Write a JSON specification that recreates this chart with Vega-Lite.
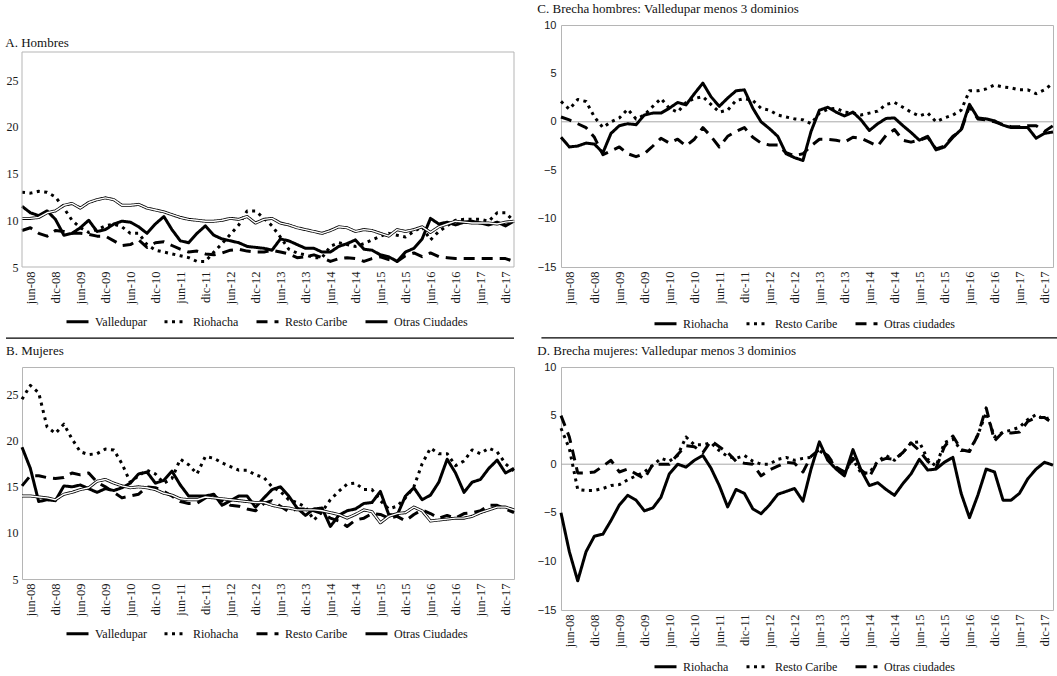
{
"$schema": "https://vega.github.io/schema/vega-lite/v6.json",
"background": "white",
"padding": {"left": 5, "top": 2, "right": 4, "bottom": 2},
"config": {
  "font": "Liberation Serif",
  "view": {"stroke": "#b5b5b5", "strokeWidth": 1},
  "axis": {"grid": false, "domain": false, "ticks": false, "labelFont": "Liberation Serif", "labelFontSize": 12, "labelColor": "#1a1a1a", "labelOverlap": false},
  "title": {"anchor": "start", "frame": "bounds", "font": "Liberation Serif", "fontSize": 13, "fontWeight": "normal", "color": "#111"},
  "legend": {"symbolType": "stroke", "symbolSize": 484, "symbolStrokeColor": "black", "symbolStrokeWidth": 2.6, "labelFont": "Liberation Serif", "labelFontSize": 12, "labelFontWeight": "normal", "labelColor": "#111", "labelOffset": 5, "columnPadding": 16, "padding": 0},
  "line": {"strokeCap": "butt", "strokeJoin": "round"}
},
"datasets": {
"A": [
{"d":"2008-04-01","Valledupar":11.5,"Riohacha":13.0,"Resto Caribe":8.9,"Otras Ciudades":10.2},
{"d":"2008-06-01","Valledupar":10.8,"Riohacha":12.9,"Resto Caribe":9.2,"Otras Ciudades":10.2},
{"d":"2008-08-01","Valledupar":10.5,"Riohacha":13.1,"Resto Caribe":8.6,"Otras Ciudades":10.3},
{"d":"2008-10-01","Valledupar":11.0,"Riohacha":13.0,"Resto Caribe":8.3,"Otras Ciudades":10.8},
{"d":"2008-12-01","Valledupar":10.1,"Riohacha":12.5,"Resto Caribe":8.9,"Otras Ciudades":11.0},
{"d":"2009-02-01","Valledupar":8.4,"Riohacha":11.3,"Resto Caribe":8.8,"Otras Ciudades":11.6},
{"d":"2009-04-01","Valledupar":8.6,"Riohacha":10.0,"Resto Caribe":8.6,"Otras Ciudades":11.8},
{"d":"2009-06-01","Valledupar":9.2,"Riohacha":9.2,"Resto Caribe":8.6,"Otras Ciudades":11.3},
{"d":"2009-08-01","Valledupar":10.0,"Riohacha":8.7,"Resto Caribe":8.5,"Otras Ciudades":11.9},
{"d":"2009-10-01","Valledupar":8.8,"Riohacha":9.0,"Resto Caribe":8.3,"Otras Ciudades":12.2},
{"d":"2009-12-01","Valledupar":9.0,"Riohacha":9.4,"Resto Caribe":8.3,"Otras Ciudades":12.4},
{"d":"2010-02-01","Valledupar":9.6,"Riohacha":9.6,"Resto Caribe":7.8,"Otras Ciudades":12.2},
{"d":"2010-04-01","Valledupar":9.9,"Riohacha":9.3,"Resto Caribe":7.3,"Otras Ciudades":11.6},
{"d":"2010-06-01","Valledupar":9.8,"Riohacha":8.6,"Resto Caribe":7.4,"Otras Ciudades":11.6},
{"d":"2010-08-01","Valledupar":9.3,"Riohacha":8.6,"Resto Caribe":7.9,"Otras Ciudades":11.7},
{"d":"2010-10-01","Valledupar":8.6,"Riohacha":7.4,"Resto Caribe":7.1,"Otras Ciudades":11.3},
{"d":"2010-12-01","Valledupar":9.6,"Riohacha":6.8,"Resto Caribe":7.6,"Otras Ciudades":11.1},
{"d":"2011-02-01","Valledupar":10.4,"Riohacha":6.6,"Resto Caribe":7.7,"Otras Ciudades":10.9},
{"d":"2011-04-01","Valledupar":9.0,"Riohacha":6.4,"Resto Caribe":7.3,"Otras Ciudades":10.6},
{"d":"2011-06-01","Valledupar":7.8,"Riohacha":6.2,"Resto Caribe":6.9,"Otras Ciudades":10.3},
{"d":"2011-08-01","Valledupar":7.6,"Riohacha":6.0,"Resto Caribe":6.6,"Otras Ciudades":10.1},
{"d":"2011-10-01","Valledupar":8.6,"Riohacha":5.6,"Resto Caribe":6.7,"Otras Ciudades":10.0},
{"d":"2011-12-01","Valledupar":9.4,"Riohacha":5.6,"Resto Caribe":6.4,"Otras Ciudades":9.9},
{"d":"2012-02-01","Valledupar":8.4,"Riohacha":6.6,"Resto Caribe":6.3,"Otras Ciudades":9.9},
{"d":"2012-04-01","Valledupar":8.0,"Riohacha":7.5,"Resto Caribe":6.5,"Otras Ciudades":10.0},
{"d":"2012-06-01","Valledupar":7.8,"Riohacha":8.5,"Resto Caribe":6.8,"Otras Ciudades":10.2},
{"d":"2012-08-01","Valledupar":7.6,"Riohacha":9.5,"Resto Caribe":6.9,"Otras Ciudades":10.1},
{"d":"2012-10-01","Valledupar":7.2,"Riohacha":11.0,"Resto Caribe":6.7,"Otras Ciudades":10.4},
{"d":"2012-12-01","Valledupar":7.1,"Riohacha":11.0,"Resto Caribe":6.6,"Otras Ciudades":9.7},
{"d":"2013-02-01","Valledupar":7.0,"Riohacha":10.2,"Resto Caribe":6.6,"Otras Ciudades":10.1},
{"d":"2013-04-01","Valledupar":6.8,"Riohacha":9.4,"Resto Caribe":6.8,"Otras Ciudades":10.2},
{"d":"2013-06-01","Valledupar":8.0,"Riohacha":8.2,"Resto Caribe":6.6,"Otras Ciudades":9.7},
{"d":"2013-08-01","Valledupar":7.8,"Riohacha":6.9,"Resto Caribe":6.4,"Otras Ciudades":9.5},
{"d":"2013-10-01","Valledupar":7.4,"Riohacha":6.5,"Resto Caribe":6.0,"Otras Ciudades":9.2},
{"d":"2013-12-01","Valledupar":7.0,"Riohacha":6.3,"Resto Caribe":6.1,"Otras Ciudades":9.0},
{"d":"2014-02-01","Valledupar":7.0,"Riohacha":6.0,"Resto Caribe":6.3,"Otras Ciudades":8.8},
{"d":"2014-04-01","Valledupar":6.6,"Riohacha":6.0,"Resto Caribe":6.0,"Otras Ciudades":8.6},
{"d":"2014-06-01","Valledupar":6.6,"Riohacha":7.2,"Resto Caribe":5.6,"Otras Ciudades":8.9},
{"d":"2014-08-01","Valledupar":7.2,"Riohacha":7.6,"Resto Caribe":5.9,"Otras Ciudades":9.3},
{"d":"2014-10-01","Valledupar":7.5,"Riohacha":7.4,"Resto Caribe":6.0,"Otras Ciudades":9.2},
{"d":"2014-12-01","Valledupar":7.9,"Riohacha":7.2,"Resto Caribe":5.9,"Otras Ciudades":8.8},
{"d":"2015-02-01","Valledupar":6.9,"Riohacha":7.5,"Resto Caribe":5.6,"Otras Ciudades":9.0},
{"d":"2015-04-01","Valledupar":6.8,"Riohacha":7.9,"Resto Caribe":5.9,"Otras Ciudades":8.9},
{"d":"2015-06-01","Valledupar":6.3,"Riohacha":8.3,"Resto Caribe":6.1,"Otras Ciudades":8.6},
{"d":"2015-08-01","Valledupar":6.1,"Riohacha":8.6,"Resto Caribe":5.8,"Otras Ciudades":8.3},
{"d":"2015-10-01","Valledupar":5.6,"Riohacha":8.4,"Resto Caribe":5.6,"Otras Ciudades":9.0},
{"d":"2015-12-01","Valledupar":6.6,"Riohacha":8.2,"Resto Caribe":6.2,"Otras Ciudades":8.8},
{"d":"2016-02-01","Valledupar":7.0,"Riohacha":8.8,"Resto Caribe":6.5,"Otras Ciudades":9.0},
{"d":"2016-04-01","Valledupar":8.0,"Riohacha":9.3,"Resto Caribe":6.1,"Otras Ciudades":9.3},
{"d":"2016-06-01","Valledupar":10.2,"Riohacha":7.9,"Resto Caribe":6.5,"Otras Ciudades":8.7},
{"d":"2016-08-01","Valledupar":9.6,"Riohacha":8.8,"Resto Caribe":6.1,"Otras Ciudades":9.3},
{"d":"2016-10-01","Valledupar":9.8,"Riohacha":9.4,"Resto Caribe":6.0,"Otras Ciudades":9.6},
{"d":"2016-12-01","Valledupar":9.5,"Riohacha":10.0,"Resto Caribe":5.9,"Otras Ciudades":9.9},
{"d":"2017-02-01","Valledupar":9.8,"Riohacha":10.1,"Resto Caribe":5.9,"Otras Ciudades":9.8},
{"d":"2017-04-01","Valledupar":9.9,"Riohacha":10.1,"Resto Caribe":5.9,"Otras Ciudades":9.7},
{"d":"2017-06-01","Valledupar":9.7,"Riohacha":10.1,"Resto Caribe":5.9,"Otras Ciudades":9.7},
{"d":"2017-08-01","Valledupar":9.5,"Riohacha":9.9,"Resto Caribe":5.9,"Otras Ciudades":9.7},
{"d":"2017-10-01","Valledupar":9.8,"Riohacha":10.8,"Resto Caribe":5.9,"Otras Ciudades":9.6},
{"d":"2017-12-01","Valledupar":9.4,"Riohacha":10.8,"Resto Caribe":5.9,"Otras Ciudades":9.8},
{"d":"2018-02-01","Valledupar":9.9,"Riohacha":9.9,"Resto Caribe":5.6,"Otras Ciudades":9.9}
],
"B": [
{"d":"2008-04-01","Valledupar":19.3,"Riohacha":24.5,"Resto Caribe":15.1,"Otras Ciudades":14.0},
{"d":"2008-06-01","Valledupar":17.0,"Riohacha":26.0,"Resto Caribe":16.2,"Otras Ciudades":14.0},
{"d":"2008-08-01","Valledupar":13.4,"Riohacha":25.2,"Resto Caribe":16.2,"Otras Ciudades":13.9},
{"d":"2008-10-01","Valledupar":13.6,"Riohacha":21.5,"Resto Caribe":16.0,"Otras Ciudades":13.8},
{"d":"2008-12-01","Valledupar":13.5,"Riohacha":20.8,"Resto Caribe":15.9,"Otras Ciudades":13.6},
{"d":"2009-02-01","Valledupar":15.1,"Riohacha":21.8,"Resto Caribe":16.0,"Otras Ciudades":14.2},
{"d":"2009-04-01","Valledupar":15.0,"Riohacha":20.2,"Resto Caribe":16.5,"Otras Ciudades":14.4},
{"d":"2009-06-01","Valledupar":15.2,"Riohacha":18.8,"Resto Caribe":16.3,"Otras Ciudades":14.7},
{"d":"2009-08-01","Valledupar":14.8,"Riohacha":18.5,"Resto Caribe":16.5,"Otras Ciudades":14.9},
{"d":"2009-10-01","Valledupar":14.4,"Riohacha":18.6,"Resto Caribe":15.5,"Otras Ciudades":15.6},
{"d":"2009-12-01","Valledupar":14.8,"Riohacha":19.1,"Resto Caribe":15.0,"Otras Ciudades":15.8},
{"d":"2010-02-01","Valledupar":14.6,"Riohacha":19.0,"Resto Caribe":14.4,"Otras Ciudades":15.4},
{"d":"2010-04-01","Valledupar":14.9,"Riohacha":17.5,"Resto Caribe":13.8,"Otras Ciudades":15.1},
{"d":"2010-06-01","Valledupar":15.4,"Riohacha":15.5,"Resto Caribe":14.0,"Otras Ciudades":14.9},
{"d":"2010-08-01","Valledupar":16.4,"Riohacha":16.2,"Resto Caribe":14.2,"Otras Ciudades":15.0},
{"d":"2010-10-01","Valledupar":16.6,"Riohacha":16.8,"Resto Caribe":15.0,"Otras Ciudades":14.9},
{"d":"2010-12-01","Valledupar":15.4,"Riohacha":16.4,"Resto Caribe":14.9,"Otras Ciudades":14.7},
{"d":"2011-02-01","Valledupar":15.7,"Riohacha":15.4,"Resto Caribe":14.5,"Otras Ciudades":14.3},
{"d":"2011-04-01","Valledupar":16.7,"Riohacha":15.9,"Resto Caribe":14.0,"Otras Ciudades":14.1},
{"d":"2011-06-01","Valledupar":15.2,"Riohacha":18.0,"Resto Caribe":13.4,"Otras Ciudades":13.7},
{"d":"2011-08-01","Valledupar":14.0,"Riohacha":17.4,"Resto Caribe":13.2,"Otras Ciudades":13.6},
{"d":"2011-10-01","Valledupar":14.0,"Riohacha":16.4,"Resto Caribe":13.2,"Otras Ciudades":13.6},
{"d":"2011-12-01","Valledupar":14.0,"Riohacha":18.3,"Resto Caribe":13.8,"Otras Ciudades":13.9},
{"d":"2012-02-01","Valledupar":14.2,"Riohacha":18.1,"Resto Caribe":14.0,"Otras Ciudades":13.8},
{"d":"2012-04-01","Valledupar":13.0,"Riohacha":17.6,"Resto Caribe":13.5,"Otras Ciudades":13.7},
{"d":"2012-06-01","Valledupar":13.5,"Riohacha":17.2,"Resto Caribe":13.0,"Otras Ciudades":13.6},
{"d":"2012-08-01","Valledupar":14.0,"Riohacha":16.8,"Resto Caribe":12.9,"Otras Ciudades":13.5},
{"d":"2012-10-01","Valledupar":14.0,"Riohacha":16.8,"Resto Caribe":12.6,"Otras Ciudades":13.4},
{"d":"2012-12-01","Valledupar":12.8,"Riohacha":16.3,"Resto Caribe":12.4,"Otras Ciudades":13.3},
{"d":"2013-02-01","Valledupar":13.8,"Riohacha":16.0,"Resto Caribe":13.2,"Otras Ciudades":13.3},
{"d":"2013-04-01","Valledupar":14.7,"Riohacha":15.0,"Resto Caribe":13.5,"Otras Ciudades":13.0},
{"d":"2013-06-01","Valledupar":15.0,"Riohacha":14.5,"Resto Caribe":12.9,"Otras Ciudades":12.8},
{"d":"2013-08-01","Valledupar":14.0,"Riohacha":13.6,"Resto Caribe":12.3,"Otras Ciudades":12.7},
{"d":"2013-10-01","Valledupar":12.7,"Riohacha":13.3,"Resto Caribe":12.6,"Otras Ciudades":12.5},
{"d":"2013-12-01","Valledupar":11.9,"Riohacha":12.8,"Resto Caribe":12.6,"Otras Ciudades":12.5},
{"d":"2014-02-01","Valledupar":12.6,"Riohacha":11.4,"Resto Caribe":12.4,"Otras Ciudades":12.5},
{"d":"2014-04-01","Valledupar":12.7,"Riohacha":12.3,"Resto Caribe":12.1,"Otras Ciudades":12.4},
{"d":"2014-06-01","Valledupar":10.7,"Riohacha":13.6,"Resto Caribe":11.6,"Otras Ciudades":12.2},
{"d":"2014-08-01","Valledupar":11.9,"Riohacha":14.5,"Resto Caribe":11.3,"Otras Ciudades":12.0},
{"d":"2014-10-01","Valledupar":12.4,"Riohacha":15.3,"Resto Caribe":10.7,"Otras Ciudades":11.6},
{"d":"2014-12-01","Valledupar":12.6,"Riohacha":15.4,"Resto Caribe":11.4,"Otras Ciudades":12.0},
{"d":"2015-02-01","Valledupar":13.2,"Riohacha":14.7,"Resto Caribe":11.6,"Otras Ciudades":12.5},
{"d":"2015-04-01","Valledupar":13.3,"Riohacha":14.7,"Resto Caribe":12.1,"Otras Ciudades":12.3},
{"d":"2015-06-01","Valledupar":14.5,"Riohacha":13.5,"Resto Caribe":12.0,"Otras Ciudades":11.1},
{"d":"2015-08-01","Valledupar":12.0,"Riohacha":12.6,"Resto Caribe":11.6,"Otras Ciudades":11.8},
{"d":"2015-10-01","Valledupar":11.9,"Riohacha":12.9,"Resto Caribe":11.8,"Otras Ciudades":12.1},
{"d":"2015-12-01","Valledupar":14.0,"Riohacha":13.8,"Resto Caribe":11.3,"Otras Ciudades":12.2},
{"d":"2016-02-01","Valledupar":14.9,"Riohacha":15.0,"Resto Caribe":12.0,"Otras Ciudades":12.8},
{"d":"2016-04-01","Valledupar":13.6,"Riohacha":17.5,"Resto Caribe":12.5,"Otras Ciudades":12.4},
{"d":"2016-06-01","Valledupar":14.1,"Riohacha":19.2,"Resto Caribe":12.1,"Otras Ciudades":11.3},
{"d":"2016-08-01","Valledupar":15.5,"Riohacha":18.6,"Resto Caribe":11.6,"Otras Ciudades":11.4},
{"d":"2016-10-01","Valledupar":18.0,"Riohacha":18.6,"Resto Caribe":11.9,"Otras Ciudades":11.5},
{"d":"2016-12-01","Valledupar":16.5,"Riohacha":17.3,"Resto Caribe":11.6,"Otras Ciudades":11.6},
{"d":"2017-02-01","Valledupar":14.4,"Riohacha":17.8,"Resto Caribe":12.1,"Otras Ciudades":11.6},
{"d":"2017-04-01","Valledupar":15.5,"Riohacha":19.0,"Resto Caribe":12.2,"Otras Ciudades":11.8},
{"d":"2017-06-01","Valledupar":15.8,"Riohacha":18.6,"Resto Caribe":12.4,"Otras Ciudades":12.2},
{"d":"2017-08-01","Valledupar":17.0,"Riohacha":19.2,"Resto Caribe":13.0,"Otras Ciudades":12.5},
{"d":"2017-10-01","Valledupar":17.9,"Riohacha":18.8,"Resto Caribe":13.0,"Otras Ciudades":12.8},
{"d":"2017-12-01","Valledupar":16.5,"Riohacha":17.5,"Resto Caribe":12.6,"Otras Ciudades":12.8},
{"d":"2018-02-01","Valledupar":17.0,"Riohacha":16.7,"Resto Caribe":12.2,"Otras Ciudades":12.5}
],
"C": [
{"d":"2008-04-01","Riohacha":-1.6,"Resto Caribe":2.1,"Otras ciudades":0.5},
{"d":"2008-06-01","Riohacha":-2.6,"Resto Caribe":1.3,"Otras ciudades":0.2},
{"d":"2008-08-01","Riohacha":-2.5,"Resto Caribe":2.3,"Otras ciudades":-0.2},
{"d":"2008-10-01","Riohacha":-2.2,"Resto Caribe":2.1,"Otras ciudades":-0.6},
{"d":"2008-12-01","Riohacha":-2.3,"Resto Caribe":0.5,"Otras ciudades":-1.6},
{"d":"2009-02-01","Riohacha":-3.2,"Resto Caribe":-0.6,"Otras ciudades":-3.4},
{"d":"2009-04-01","Riohacha":-1.2,"Resto Caribe":0.0,"Otras ciudades":-3.0},
{"d":"2009-06-01","Riohacha":-0.4,"Resto Caribe":0.4,"Otras ciudades":-2.6},
{"d":"2009-08-01","Riohacha":-0.2,"Resto Caribe":1.3,"Otras ciudades":-3.3},
{"d":"2009-10-01","Riohacha":-0.3,"Resto Caribe":0.3,"Otras ciudades":-3.6},
{"d":"2009-12-01","Riohacha":0.7,"Resto Caribe":0.7,"Otras ciudades":-3.3},
{"d":"2010-02-01","Riohacha":0.9,"Resto Caribe":1.6,"Otras ciudades":-2.5},
{"d":"2010-04-01","Riohacha":0.9,"Resto Caribe":2.4,"Otras ciudades":-1.7},
{"d":"2010-06-01","Riohacha":1.4,"Resto Caribe":1.4,"Otras ciudades":-2.2},
{"d":"2010-08-01","Riohacha":2.0,"Resto Caribe":1.0,"Otras ciudades":-1.8},
{"d":"2010-10-01","Riohacha":1.75,"Resto Caribe":2.0,"Otras ciudades":-2.5},
{"d":"2010-12-01","Riohacha":2.9,"Resto Caribe":2.4,"Otras ciudades":-1.8},
{"d":"2011-02-01","Riohacha":4.0,"Resto Caribe":2.6,"Otras ciudades":-0.6},
{"d":"2011-04-01","Riohacha":2.6,"Resto Caribe":1.8,"Otras ciudades":-1.5},
{"d":"2011-06-01","Riohacha":1.6,"Resto Caribe":1.0,"Otras ciudades":-2.6},
{"d":"2011-08-01","Riohacha":2.45,"Resto Caribe":1.2,"Otras ciudades":-1.5},
{"d":"2011-10-01","Riohacha":3.2,"Resto Caribe":2.2,"Otras ciudades":-1.0},
{"d":"2011-12-01","Riohacha":3.3,"Resto Caribe":2.4,"Otras ciudades":-0.6},
{"d":"2012-02-01","Riohacha":1.4,"Resto Caribe":2.2,"Otras ciudades":-1.6},
{"d":"2012-04-01","Riohacha":0.0,"Resto Caribe":1.4,"Otras ciudades":-2.2},
{"d":"2012-06-01","Riohacha":-0.7,"Resto Caribe":1.2,"Otras ciudades":-2.4},
{"d":"2012-08-01","Riohacha":-1.5,"Resto Caribe":0.7,"Otras ciudades":-2.4},
{"d":"2012-10-01","Riohacha":-3.3,"Resto Caribe":0.5,"Otras ciudades":-3.2},
{"d":"2012-12-01","Riohacha":-3.7,"Resto Caribe":0.3,"Otras ciudades":-3.5},
{"d":"2013-02-01","Riohacha":-4.0,"Resto Caribe":0.2,"Otras ciudades":-3.3},
{"d":"2013-04-01","Riohacha":-1.0,"Resto Caribe":-0.2,"Otras ciudades":-2.5},
{"d":"2013-06-01","Riohacha":1.2,"Resto Caribe":0.9,"Otras ciudades":-1.8},
{"d":"2013-08-01","Riohacha":1.5,"Resto Caribe":1.3,"Otras ciudades":-1.8},
{"d":"2013-10-01","Riohacha":1.0,"Resto Caribe":1.4,"Otras ciudades":-1.9},
{"d":"2013-12-01","Riohacha":0.6,"Resto Caribe":1.0,"Otras ciudades":-2.1},
{"d":"2014-02-01","Riohacha":1.0,"Resto Caribe":0.9,"Otras ciudades":-1.6},
{"d":"2014-04-01","Riohacha":0.2,"Resto Caribe":0.7,"Otras ciudades":-1.7},
{"d":"2014-06-01","Riohacha":-0.9,"Resto Caribe":0.9,"Otras ciudades":-2.1},
{"d":"2014-08-01","Riohacha":-0.2,"Resto Caribe":1.1,"Otras ciudades":-2.5},
{"d":"2014-10-01","Riohacha":0.35,"Resto Caribe":1.8,"Otras ciudades":-1.4},
{"d":"2014-12-01","Riohacha":0.4,"Resto Caribe":2.0,"Otras ciudades":-0.8},
{"d":"2015-02-01","Riohacha":-0.4,"Resto Caribe":1.5,"Otras ciudades":-1.9},
{"d":"2015-04-01","Riohacha":-1.1,"Resto Caribe":1.0,"Otras ciudades":-2.1},
{"d":"2015-06-01","Riohacha":-1.9,"Resto Caribe":0.6,"Otras ciudades":-1.9},
{"d":"2015-08-01","Riohacha":-1.5,"Resto Caribe":0.9,"Otras ciudades":-1.6},
{"d":"2015-10-01","Riohacha":-2.9,"Resto Caribe":0.0,"Otras ciudades":-2.8},
{"d":"2015-12-01","Riohacha":-2.6,"Resto Caribe":0.4,"Otras ciudades":-2.5},
{"d":"2016-02-01","Riohacha":-1.6,"Resto Caribe":0.7,"Otras ciudades":-1.5},
{"d":"2016-04-01","Riohacha":-0.8,"Resto Caribe":1.2,"Otras ciudades":-0.9},
{"d":"2016-06-01","Riohacha":1.8,"Resto Caribe":3.2,"Otras ciudades":1.6},
{"d":"2016-08-01","Riohacha":0.4,"Resto Caribe":3.2,"Otras ciudades":0.3},
{"d":"2016-10-01","Riohacha":0.3,"Resto Caribe":3.4,"Otras ciudades":0.2},
{"d":"2016-12-01","Riohacha":0.1,"Resto Caribe":3.8,"Otras ciudades":0.0},
{"d":"2017-02-01","Riohacha":-0.35,"Resto Caribe":3.6,"Otras ciudades":-0.3},
{"d":"2017-04-01","Riohacha":-0.6,"Resto Caribe":3.5,"Otras ciudades":-0.5},
{"d":"2017-06-01","Riohacha":-0.6,"Resto Caribe":3.3,"Otras ciudades":-0.5},
{"d":"2017-08-01","Riohacha":-0.6,"Resto Caribe":3.3,"Otras ciudades":-0.4},
{"d":"2017-10-01","Riohacha":-1.7,"Resto Caribe":2.9,"Otras ciudades":-0.4},
{"d":"2017-12-01","Riohacha":-1.2,"Resto Caribe":3.3,"Otras ciudades":-1.0},
{"d":"2018-02-01","Riohacha":-1.05,"Resto Caribe":4.0,"Otras ciudades":-0.4}
],
"D": [
{"d":"2008-04-01","Riohacha":-5.0,"Resto Caribe":3.7,"Otras ciudades":5.0},
{"d":"2008-06-01","Riohacha":-9.0,"Resto Caribe":1.6,"Otras ciudades":2.8},
{"d":"2008-08-01","Riohacha":-12.0,"Resto Caribe":-2.6,"Otras ciudades":-0.9},
{"d":"2008-10-01","Riohacha":-9.0,"Resto Caribe":-2.7,"Otras ciudades":-0.9},
{"d":"2008-12-01","Riohacha":-7.4,"Resto Caribe":-2.7,"Otras ciudades":-0.8},
{"d":"2009-02-01","Riohacha":-7.2,"Resto Caribe":-2.5,"Otras ciudades":-0.2},
{"d":"2009-04-01","Riohacha":-5.8,"Resto Caribe":-2.2,"Otras ciudades":0.4},
{"d":"2009-06-01","Riohacha":-4.2,"Resto Caribe":-2.1,"Otras ciudades":-0.8},
{"d":"2009-08-01","Riohacha":-3.2,"Resto Caribe":-1.6,"Otras ciudades":-0.5},
{"d":"2009-10-01","Riohacha":-3.7,"Resto Caribe":-1.2,"Otras ciudades":-1.0},
{"d":"2009-12-01","Riohacha":-4.8,"Resto Caribe":-0.8,"Otras ciudades":-1.5},
{"d":"2010-02-01","Riohacha":-4.5,"Resto Caribe":-0.1,"Otras ciudades":0.0},
{"d":"2010-04-01","Riohacha":-3.4,"Resto Caribe":0.6,"Otras ciudades":0.0},
{"d":"2010-06-01","Riohacha":-1.0,"Resto Caribe":0.3,"Otras ciudades":0.0},
{"d":"2010-08-01","Riohacha":0.0,"Resto Caribe":0.9,"Otras ciudades":1.0},
{"d":"2010-10-01","Riohacha":-0.3,"Resto Caribe":2.8,"Otras ciudades":1.9},
{"d":"2010-12-01","Riohacha":0.4,"Resto Caribe":2.0,"Otras ciudades":1.8},
{"d":"2011-02-01","Riohacha":0.9,"Resto Caribe":2.0,"Otras ciudades":1.2},
{"d":"2011-04-01","Riohacha":-0.4,"Resto Caribe":2.2,"Otras ciudades":2.4},
{"d":"2011-06-01","Riohacha":-2.2,"Resto Caribe":1.4,"Otras ciudades":1.8},
{"d":"2011-08-01","Riohacha":-4.4,"Resto Caribe":0.8,"Otras ciudades":1.2},
{"d":"2011-10-01","Riohacha":-2.6,"Resto Caribe":0.6,"Otras ciudades":0.3},
{"d":"2011-12-01","Riohacha":-3.0,"Resto Caribe":0.9,"Otras ciudades":0.1},
{"d":"2012-02-01","Riohacha":-4.6,"Resto Caribe":0.3,"Otras ciudades":0.0},
{"d":"2012-04-01","Riohacha":-5.1,"Resto Caribe":0.0,"Otras ciudades":-1.2},
{"d":"2012-06-01","Riohacha":-4.2,"Resto Caribe":0.0,"Otras ciudades":-0.6},
{"d":"2012-08-01","Riohacha":-3.1,"Resto Caribe":0.5,"Otras ciudades":-0.2},
{"d":"2012-10-01","Riohacha":-2.8,"Resto Caribe":0.7,"Otras ciudades":0.2},
{"d":"2012-12-01","Riohacha":-2.5,"Resto Caribe":0.4,"Otras ciudades":0.1},
{"d":"2013-02-01","Riohacha":-3.8,"Resto Caribe":0.6,"Otras ciudades":-0.8},
{"d":"2013-04-01","Riohacha":-0.5,"Resto Caribe":0.7,"Otras ciudades":0.8},
{"d":"2013-06-01","Riohacha":2.3,"Resto Caribe":1.4,"Otras ciudades":1.5},
{"d":"2013-08-01","Riohacha":0.4,"Resto Caribe":0.8,"Otras ciudades":0.9},
{"d":"2013-10-01","Riohacha":-0.5,"Resto Caribe":-0.4,"Otras ciudades":-0.3},
{"d":"2013-12-01","Riohacha":-1.2,"Resto Caribe":-0.8,"Otras ciudades":-0.8},
{"d":"2014-02-01","Riohacha":1.5,"Resto Caribe":0.5,"Otras ciudades":0.6},
{"d":"2014-04-01","Riohacha":-0.6,"Resto Caribe":-0.9,"Otras ciudades":-0.6},
{"d":"2014-06-01","Riohacha":-2.2,"Resto Caribe":-0.9,"Otras ciudades":-1.3},
{"d":"2014-08-01","Riohacha":-1.9,"Resto Caribe":0.3,"Otras ciudades":0.3},
{"d":"2014-10-01","Riohacha":-2.6,"Resto Caribe":0.9,"Otras ciudades":0.6},
{"d":"2014-12-01","Riohacha":-3.2,"Resto Caribe":0.4,"Otras ciudades":0.5},
{"d":"2015-02-01","Riohacha":-2.0,"Resto Caribe":1.2,"Otras ciudades":1.2},
{"d":"2015-04-01","Riohacha":-1.0,"Resto Caribe":2.2,"Otras ciudades":2.2},
{"d":"2015-06-01","Riohacha":0.5,"Resto Caribe":2.3,"Otras ciudades":1.4},
{"d":"2015-08-01","Riohacha":-0.6,"Resto Caribe":0.5,"Otras ciudades":0.3},
{"d":"2015-10-01","Riohacha":-0.5,"Resto Caribe":-0.2,"Otras ciudades":-0.4},
{"d":"2015-12-01","Riohacha":0.2,"Resto Caribe":2.2,"Otras ciudades":1.8},
{"d":"2016-02-01","Riohacha":0.7,"Resto Caribe":2.6,"Otras ciudades":2.9},
{"d":"2016-04-01","Riohacha":-3.0,"Resto Caribe":1.4,"Otras ciudades":1.5},
{"d":"2016-06-01","Riohacha":-5.5,"Resto Caribe":1.4,"Otras ciudades":1.3},
{"d":"2016-08-01","Riohacha":-3.2,"Resto Caribe":3.0,"Otras ciudades":3.0},
{"d":"2016-10-01","Riohacha":-0.5,"Resto Caribe":5.3,"Otras ciudades":5.8},
{"d":"2016-12-01","Riohacha":-0.8,"Resto Caribe":2.8,"Otras ciudades":2.4},
{"d":"2017-02-01","Riohacha":-3.7,"Resto Caribe":3.3,"Otras ciudades":3.3},
{"d":"2017-04-01","Riohacha":-3.7,"Resto Caribe":3.5,"Otras ciudades":3.2},
{"d":"2017-06-01","Riohacha":-3.0,"Resto Caribe":3.8,"Otras ciudades":3.3},
{"d":"2017-08-01","Riohacha":-1.5,"Resto Caribe":4.6,"Otras ciudades":4.4},
{"d":"2017-10-01","Riohacha":-0.5,"Resto Caribe":5.1,"Otras ciudades":4.8},
{"d":"2017-12-01","Riohacha":0.2,"Resto Caribe":4.6,"Otras ciudades":4.8},
{"d":"2018-02-01","Riohacha":-0.1,"Resto Caribe":4.9,"Otras ciudades":4.2}
]
},
"resolve": {"scale": {"x": "independent", "y": "independent", "strokeDash": "independent", "strokeWidth": "independent"}, "legend": {"strokeDash": "independent"}},
"columns": 2,
"align": "none",
"spacing": {"row": 4, "column": 20},
"concat": [
  {
    "width": 492, "height": 242,
    "view": {"stroke": null},
    "title": {"text": "A. Hombres", "offset": 10, "dy": 35},
    "layer": [
      {
        "data": {"name": "A"},
        "transform": [{"fold": ["Valledupar", "Riohacha", "Resto Caribe", "Otras Ciudades"], "as": ["serie", "v"]}],
        "encoding": {
          "x": {"field": "d", "type": "temporal", "title": null,
            "scale": {"type": "utc", "domain": [{"year": 2008, "month": 4, "date": 1, "utc": true}, {"year": 2018, "month": 2, "date": 1, "utc": true}]},
            "axis": {"labelAngle": 270, "labelPadding": 4, "labelOverlap": false, "labelFlush": false, "labelFontSize": 12.5,
              "labelExpr": "(utcmonth(datum.value) == 5 ? 'jun-' : 'dic-') + utcFormat(datum.value, '%y')",
              "values": [{"year":2008,"month":6,"date":1,"utc":true},{"year":2008,"month":12,"date":1,"utc":true},{"year":2009,"month":6,"date":1,"utc":true},{"year":2009,"month":12,"date":1,"utc":true},{"year":2010,"month":6,"date":1,"utc":true},{"year":2010,"month":12,"date":1,"utc":true},{"year":2011,"month":6,"date":1,"utc":true},{"year":2011,"month":12,"date":1,"utc":true},{"year":2012,"month":6,"date":1,"utc":true},{"year":2012,"month":12,"date":1,"utc":true},{"year":2013,"month":6,"date":1,"utc":true},{"year":2013,"month":12,"date":1,"utc":true},{"year":2014,"month":6,"date":1,"utc":true},{"year":2014,"month":12,"date":1,"utc":true},{"year":2015,"month":6,"date":1,"utc":true},{"year":2015,"month":12,"date":1,"utc":true},{"year":2016,"month":6,"date":1,"utc":true},{"year":2016,"month":12,"date":1,"utc":true},{"year":2017,"month":6,"date":1,"utc":true},{"year":2017,"month":12,"date":1,"utc":true}]}},
          "y": {"field": "v", "type": "quantitative", "title": null, "scale": {"domain": [5, 30.889], "nice": false, "zero": false}, "axis": {"values": [5, 10, 15, 20, 25], "labelPadding": 4}}
        },
        "layer": [
          {"mark": {"type": "line", "color": "black"},
           "encoding": {
             "strokeDash": {"field": "serie", "type": "nominal",
               "scale": {"domain": ["Valledupar", "Riohacha", "Resto Caribe", "Otras Ciudades"], "range": [[1, 0], [3, 4.5], [11, 7], [1, 0]]},
               "legend": {"orient": "none", "legendX": 43, "legendY": 284, "direction": "horizontal", "title": null,
                 "encode": {"symbols": {"shape": {"condition": {"test": "datum.value === 'Otras Ciudades'", "value": "M-1,-0.3H1M-1,0.3H1"}, "value": "stroke"}, "strokeWidth": {"condition": {"test": "datum.value === 'Otras Ciudades'", "value": 1.2}, "value": 2.6}}}}},
             "strokeWidth": {"field": "serie", "type": "nominal", "scale": {"domain": ["Valledupar", "Riohacha", "Resto Caribe", "Otras Ciudades"], "range": [3, 3, 3.5, 4.2]}, "legend": null}
           }},
          {"transform": [{"filter": "datum.serie === 'Otras Ciudades'"}], "mark": {"type": "line", "color": "white", "strokeWidth": 1.4}}
        ]
      },
      {"data": {"values": [{}]},
       "mark": {"type": "rect", "filled": false, "stroke": "#b5b5b5", "strokeWidth": 1},
       "encoding": {
         "x": {"datum": {"year": 2008, "month": 4, "date": 1, "utc": true}, "type": "temporal", "title": null,
            "axis": {"labelAngle": 270, "labelPadding": 4, "labelOverlap": false, "labelFlush": false, "labelFontSize": 12.5,
              "labelExpr": "(utcmonth(datum.value) == 5 ? 'jun-' : 'dic-') + utcFormat(datum.value, '%y')",
              "values": [{"year":2008,"month":6,"date":1,"utc":true},{"year":2008,"month":12,"date":1,"utc":true},{"year":2009,"month":6,"date":1,"utc":true},{"year":2009,"month":12,"date":1,"utc":true},{"year":2010,"month":6,"date":1,"utc":true},{"year":2010,"month":12,"date":1,"utc":true},{"year":2011,"month":6,"date":1,"utc":true},{"year":2011,"month":12,"date":1,"utc":true},{"year":2012,"month":6,"date":1,"utc":true},{"year":2012,"month":12,"date":1,"utc":true},{"year":2013,"month":6,"date":1,"utc":true},{"year":2013,"month":12,"date":1,"utc":true},{"year":2014,"month":6,"date":1,"utc":true},{"year":2014,"month":12,"date":1,"utc":true},{"year":2015,"month":6,"date":1,"utc":true},{"year":2015,"month":12,"date":1,"utc":true},{"year":2016,"month":6,"date":1,"utc":true},{"year":2016,"month":12,"date":1,"utc":true},{"year":2017,"month":6,"date":1,"utc":true},{"year":2017,"month":12,"date":1,"utc":true}]}},
         "x2": {"datum": {"year": 2018, "month": 2, "date": 1, "utc": true}},
         "y": {"datum": 28, "type": "quantitative", "title": null},
         "y2": {"datum": 5}
       }},
      {"data": {"values": [{}]},
       "mark": {"type": "rule", "color": "black", "strokeWidth": 1.3, "clip": false},
       "encoding": {
         "x": {"datum": {"year": 2007, "month": 12, "date": 6, "utc": true}, "type": "temporal", "title": null,
            "axis": {"labelAngle": 270, "labelPadding": 4, "labelOverlap": false, "labelFlush": false, "labelFontSize": 12.5,
              "labelExpr": "(utcmonth(datum.value) == 5 ? 'jun-' : 'dic-') + utcFormat(datum.value, '%y')",
              "values": [{"year":2008,"month":6,"date":1,"utc":true},{"year":2008,"month":12,"date":1,"utc":true},{"year":2009,"month":6,"date":1,"utc":true},{"year":2009,"month":12,"date":1,"utc":true},{"year":2010,"month":6,"date":1,"utc":true},{"year":2010,"month":12,"date":1,"utc":true},{"year":2011,"month":6,"date":1,"utc":true},{"year":2011,"month":12,"date":1,"utc":true},{"year":2012,"month":6,"date":1,"utc":true},{"year":2012,"month":12,"date":1,"utc":true},{"year":2013,"month":6,"date":1,"utc":true},{"year":2013,"month":12,"date":1,"utc":true},{"year":2014,"month":6,"date":1,"utc":true},{"year":2014,"month":12,"date":1,"utc":true},{"year":2015,"month":6,"date":1,"utc":true},{"year":2015,"month":12,"date":1,"utc":true},{"year":2016,"month":6,"date":1,"utc":true},{"year":2016,"month":12,"date":1,"utc":true},{"year":2017,"month":6,"date":1,"utc":true},{"year":2017,"month":12,"date":1,"utc":true}]}},
         "x2": {"datum": {"year": 2018, "month": 2, "date": 1, "utc": true}},
         "y": {"datum": -2.6, "type": "quantitative", "title": null}
       }}
    ]
  },
  {
    "width": 492, "height": 242,
    "title": {"text": "C. Brecha hombres: Valledupar menos 3 dominios", "offset": 3},
    "layer": [
      {"data": {"values": [{}]},
       "mark": {"type": "rule", "color": "#a8a8a8", "strokeWidth": 1},
       "encoding": {"y": {"datum": 0, "type": "quantitative", "title": null, "scale": {"domain": [-15, 10], "nice": false}, "axis": {"values": [-15, -10, -5, 0, 5, 10], "labelPadding": 5, "labelFont": "Liberation Sans", "labelFontSize": 11}}}},
      {
        "data": {"name": "C"},
        "transform": [{"fold": ["Riohacha", "Resto Caribe", "Otras ciudades"], "as": ["serie", "v"]}],
        "mark": {"type": "line", "color": "black"},
        "encoding": {
          "x": {"field": "d", "type": "temporal", "title": null,
            "scale": {"type": "utc", "domain": [{"year": 2008, "month": 4, "date": 1, "utc": true}, {"year": 2018, "month": 2, "date": 1, "utc": true}]},
            "axis": {"labelAngle": 270, "labelPadding": 4, "labelOverlap": false, "labelFlush": false, "labelFontSize": 12.5,
              "labelExpr": "(utcmonth(datum.value) == 5 ? 'jun-' : 'dic-') + utcFormat(datum.value, '%y')",
              "values": [{"year":2008,"month":6,"date":1,"utc":true},{"year":2008,"month":12,"date":1,"utc":true},{"year":2009,"month":6,"date":1,"utc":true},{"year":2009,"month":12,"date":1,"utc":true},{"year":2010,"month":6,"date":1,"utc":true},{"year":2010,"month":12,"date":1,"utc":true},{"year":2011,"month":6,"date":1,"utc":true},{"year":2011,"month":12,"date":1,"utc":true},{"year":2012,"month":6,"date":1,"utc":true},{"year":2012,"month":12,"date":1,"utc":true},{"year":2013,"month":6,"date":1,"utc":true},{"year":2013,"month":12,"date":1,"utc":true},{"year":2014,"month":6,"date":1,"utc":true},{"year":2014,"month":12,"date":1,"utc":true},{"year":2015,"month":6,"date":1,"utc":true},{"year":2015,"month":12,"date":1,"utc":true},{"year":2016,"month":6,"date":1,"utc":true},{"year":2016,"month":12,"date":1,"utc":true},{"year":2017,"month":6,"date":1,"utc":true},{"year":2017,"month":12,"date":1,"utc":true}]}},
          "y": {"field": "v", "type": "quantitative", "title": null, "scale": {"domain": [-15, 10], "nice": false}, "axis": {"values": [-15, -10, -5, 0, 5, 10], "labelPadding": 5, "labelFont": "Liberation Sans", "labelFontSize": 11}},
          "strokeDash": {"field": "serie", "type": "nominal",
            "scale": {"domain": ["Riohacha", "Resto Caribe", "Otras ciudades"], "range": [[1, 0], [3, 4.5], [11, 7]]},
            "legend": {"orient": "none", "legendX": 92, "legendY": 286, "direction": "horizontal", "title": null}},
          "strokeWidth": {"field": "serie", "type": "nominal", "scale": {"domain": ["Riohacha", "Resto Caribe", "Otras ciudades"], "range": [3, 3, 3.5]}, "legend": null}
        }
      },
      {"data": {"values": [{}]},
       "mark": {"type": "rule", "color": "black", "strokeWidth": 1.3, "clip": false},
       "encoding": {
         "x": {"datum": {"year": 2007, "month": 11, "date": 10, "utc": true}, "type": "temporal", "title": null,
            "axis": {"labelAngle": 270, "labelPadding": 4, "labelOverlap": false, "labelFlush": false, "labelFontSize": 12.5,
              "labelExpr": "(utcmonth(datum.value) == 5 ? 'jun-' : 'dic-') + utcFormat(datum.value, '%y')",
              "values": [{"year":2008,"month":6,"date":1,"utc":true},{"year":2008,"month":12,"date":1,"utc":true},{"year":2009,"month":6,"date":1,"utc":true},{"year":2009,"month":12,"date":1,"utc":true},{"year":2010,"month":6,"date":1,"utc":true},{"year":2010,"month":12,"date":1,"utc":true},{"year":2011,"month":6,"date":1,"utc":true},{"year":2011,"month":12,"date":1,"utc":true},{"year":2012,"month":6,"date":1,"utc":true},{"year":2012,"month":12,"date":1,"utc":true},{"year":2013,"month":6,"date":1,"utc":true},{"year":2013,"month":12,"date":1,"utc":true},{"year":2014,"month":6,"date":1,"utc":true},{"year":2014,"month":12,"date":1,"utc":true},{"year":2015,"month":6,"date":1,"utc":true},{"year":2015,"month":12,"date":1,"utc":true},{"year":2016,"month":6,"date":1,"utc":true},{"year":2016,"month":12,"date":1,"utc":true},{"year":2017,"month":6,"date":1,"utc":true},{"year":2017,"month":12,"date":1,"utc":true}]}},
         "x2": {"datum": {"year": 2018, "month": 3, "date": 7, "utc": true}},
         "y": {"datum": -22.33, "type": "quantitative", "title": null}
       }}
    ]
  },
  {
    "width": 492, "height": 212,
    "title": {"text": "B. Mujeres", "offset": 9},
    "layer": [
      {
        "data": {"name": "B"},
        "transform": [{"fold": ["Valledupar", "Riohacha", "Resto Caribe", "Otras Ciudades"], "as": ["serie", "v"]}],
        "encoding": {
          "x": {"field": "d", "type": "temporal", "title": null,
            "scale": {"type": "utc", "domain": [{"year": 2008, "month": 4, "date": 1, "utc": true}, {"year": 2018, "month": 2, "date": 1, "utc": true}]},
            "axis": {"labelAngle": 270, "labelPadding": 4, "labelOverlap": false, "labelFlush": false, "labelFontSize": 12.5,
              "labelExpr": "(utcmonth(datum.value) == 5 ? 'jun-' : 'dic-') + utcFormat(datum.value, '%y')",
              "values": [{"year":2008,"month":6,"date":1,"utc":true},{"year":2008,"month":12,"date":1,"utc":true},{"year":2009,"month":6,"date":1,"utc":true},{"year":2009,"month":12,"date":1,"utc":true},{"year":2010,"month":6,"date":1,"utc":true},{"year":2010,"month":12,"date":1,"utc":true},{"year":2011,"month":6,"date":1,"utc":true},{"year":2011,"month":12,"date":1,"utc":true},{"year":2012,"month":6,"date":1,"utc":true},{"year":2012,"month":12,"date":1,"utc":true},{"year":2013,"month":6,"date":1,"utc":true},{"year":2013,"month":12,"date":1,"utc":true},{"year":2014,"month":6,"date":1,"utc":true},{"year":2014,"month":12,"date":1,"utc":true},{"year":2015,"month":6,"date":1,"utc":true},{"year":2015,"month":12,"date":1,"utc":true},{"year":2016,"month":6,"date":1,"utc":true},{"year":2016,"month":12,"date":1,"utc":true},{"year":2017,"month":6,"date":1,"utc":true},{"year":2017,"month":12,"date":1,"utc":true}]}},
          "y": {"field": "v", "type": "quantitative", "title": null, "scale": {"domain": [5, 28], "nice": false, "zero": false}, "axis": {"values": [5, 10, 15, 20, 25], "labelPadding": 4}}
        },
        "layer": [
          {"mark": {"type": "line", "color": "black"},
           "encoding": {
             "strokeDash": {"field": "serie", "type": "nominal",
               "scale": {"domain": ["Valledupar", "Riohacha", "Resto Caribe", "Otras Ciudades"], "range": [[1, 0], [3, 4.5], [11, 7], [1, 0]]},
               "legend": {"orient": "none", "legendX": 43, "legendY": 254, "direction": "horizontal", "title": null,
                 "encode": {"symbols": {"shape": {"condition": {"test": "datum.value === 'Otras Ciudades'", "value": "M-1,-0.3H1M-1,0.3H1"}, "value": "stroke"}, "strokeWidth": {"condition": {"test": "datum.value === 'Otras Ciudades'", "value": 1.2}, "value": 2.6}}}}},
             "strokeWidth": {"field": "serie", "type": "nominal", "scale": {"domain": ["Valledupar", "Riohacha", "Resto Caribe", "Otras Ciudades"], "range": [3, 3, 3.5, 4.2]}, "legend": null}
           }},
          {"transform": [{"filter": "datum.serie === 'Otras Ciudades'"}], "mark": {"type": "line", "color": "white", "strokeWidth": 1.4}}
        ]
      }
    ]
  },
  {
    "width": 492, "height": 243,
    "title": {"text": "D. Brecha mujeres: Valledupar menos 3 dominios", "offset": 3},
    "layer": [
      {"data": {"values": [{}]},
       "mark": {"type": "rule", "color": "#a8a8a8", "strokeWidth": 1},
       "encoding": {"y": {"datum": 0, "type": "quantitative", "title": null, "scale": {"domain": [-15, 10], "nice": false}, "axis": {"values": [-15, -10, -5, 0, 5, 10], "labelPadding": 5, "labelFont": "Liberation Sans", "labelFontSize": 11}}}},
      {
        "data": {"name": "D"},
        "transform": [{"fold": ["Riohacha", "Resto Caribe", "Otras ciudades"], "as": ["serie", "v"]}],
        "mark": {"type": "line", "color": "black"},
        "encoding": {
          "x": {"field": "d", "type": "temporal", "title": null,
            "scale": {"type": "utc", "domain": [{"year": 2008, "month": 4, "date": 1, "utc": true}, {"year": 2018, "month": 2, "date": 1, "utc": true}]},
            "axis": {"labelAngle": 270, "labelPadding": 4, "labelOverlap": false, "labelFlush": false, "labelFontSize": 12.5,
              "labelExpr": "(utcmonth(datum.value) == 5 ? 'jun-' : 'dic-') + utcFormat(datum.value, '%y')",
              "values": [{"year":2008,"month":6,"date":1,"utc":true},{"year":2008,"month":12,"date":1,"utc":true},{"year":2009,"month":6,"date":1,"utc":true},{"year":2009,"month":12,"date":1,"utc":true},{"year":2010,"month":6,"date":1,"utc":true},{"year":2010,"month":12,"date":1,"utc":true},{"year":2011,"month":6,"date":1,"utc":true},{"year":2011,"month":12,"date":1,"utc":true},{"year":2012,"month":6,"date":1,"utc":true},{"year":2012,"month":12,"date":1,"utc":true},{"year":2013,"month":6,"date":1,"utc":true},{"year":2013,"month":12,"date":1,"utc":true},{"year":2014,"month":6,"date":1,"utc":true},{"year":2014,"month":12,"date":1,"utc":true},{"year":2015,"month":6,"date":1,"utc":true},{"year":2015,"month":12,"date":1,"utc":true},{"year":2016,"month":6,"date":1,"utc":true},{"year":2016,"month":12,"date":1,"utc":true},{"year":2017,"month":6,"date":1,"utc":true},{"year":2017,"month":12,"date":1,"utc":true}]}},
          "y": {"field": "v", "type": "quantitative", "title": null, "scale": {"domain": [-15, 10], "nice": false}, "axis": {"values": [-15, -10, -5, 0, 5, 10], "labelPadding": 5, "labelFont": "Liberation Sans", "labelFontSize": 11}},
          "strokeDash": {"field": "serie", "type": "nominal",
            "scale": {"domain": ["Riohacha", "Resto Caribe", "Otras ciudades"], "range": [[1, 0], [3, 4.5], [11, 7]]},
            "legend": {"orient": "none", "legendX": 92, "legendY": 287, "direction": "horizontal", "title": null}},
          "strokeWidth": {"field": "serie", "type": "nominal", "scale": {"domain": ["Riohacha", "Resto Caribe", "Otras ciudades"], "range": [3, 3, 3.5]}, "legend": null}
        }
      }
    ]
  }
]
}
